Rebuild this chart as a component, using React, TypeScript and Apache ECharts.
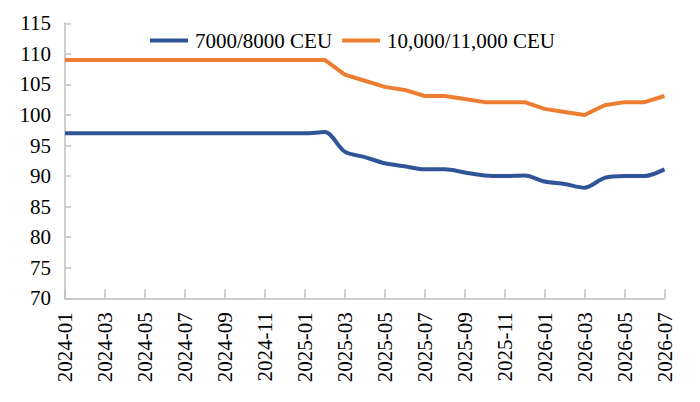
import React, { useEffect, useRef } from "react";
import * as echarts from "echarts";

const months: string[] = [
  "2024-01", "2024-02", "2024-03", "2024-04", "2024-05", "2024-06", "2024-07", "2024-08",
  "2024-09", "2024-10", "2024-11", "2024-12", "2025-01", "2025-02", "2025-03", "2025-04",
  "2025-05", "2025-06", "2025-07", "2025-08", "2025-09", "2025-10", "2025-11", "2025-12",
  "2026-01", "2026-02", "2026-03", "2026-04", "2026-05", "2026-06", "2026-07",
];

const seriesNames: string[] = ["7000/8000 CEU", "10,000/11,000 CEU"];

const ceu7000: number[] = [
  97, 97, 97, 97, 97, 97, 97, 97, 97, 97, 97, 97, 97, 97.2,
  94.0, 93.1, 92.1, 91.6, 91.1, 91.1, 90.6, 90.1, 90.0, 90.1,
  89.1, 88.7, 88.1, 89.7, 90.0, 90.0, 91.1,
];

const ceu10000: number[] = [
  109, 109, 109, 109, 109, 109, 109, 109, 109, 109, 109, 109, 109, 109,
  106.6, 105.6, 104.6, 104.1, 103.1, 103.1, 102.6, 102.1, 102.1, 102.1,
  101.0, 100.5, 100.0, 101.6, 102.1, 102.1, 103.1,
];

const yMin = 70;
const yMax = 115;
const yStep = 5;

const FONT = "Liberation Serif";
const AXIS_COLOR = "#bfbfbf";

export default function App() {
  const ref = useRef<HTMLDivElement>(null);

  useEffect(() => {
    document.body.style.margin = "0";
    if (!ref.current) return;
    const chart = echarts.init(ref.current, null, { renderer: "svg" });
    chart.setOption({
      animation: false,
      backgroundColor: "#ffffff",
      textStyle: { fontFamily: FONT, color: "#000000" },
      legend: {
        left: 145,
        top: 25,
        itemWidth: 38,
        itemHeight: 4,
        itemGap: 10,
        icon: "rect",
        textStyle: {
          fontFamily: FONT,
          fontSize: 21,
          color: "#000000",
          padding: [0, 0, 0, 2],
        },
        data: seriesNames,
      },
      grid: {
        left: 65,
        right: 35.5,
        top: 23.3,
        bottom: 103.7,
        outerBoundsMode: "none",
        containLabel: false,
      },
      xAxis: {
        type: "category",
        data: months,
        boundaryGap: false,
        axisLine: { show: true, lineStyle: { color: AXIS_COLOR, width: 1.5 } },
        axisTick: {
          show: true,
          inside: true,
          length: 9,
          interval: 1,
          lineStyle: { color: AXIS_COLOR, width: 1.5 },
        },
        axisLabel: {
          interval: 1,
          rotate: 90,
          margin: 14,
          fontFamily: FONT,
          fontSize: 21,
          color: "#000000",
        },
        splitLine: { show: false },
      },
      yAxis: {
        type: "value",
        min: yMin,
        max: yMax,
        interval: yStep,
        axisLine: { show: true, lineStyle: { color: AXIS_COLOR, width: 1.5 } },
        axisTick: {
          show: true,
          inside: true,
          length: 6,
          lineStyle: { color: AXIS_COLOR, width: 1.5 },
        },
        axisLabel: {
          margin: 14,
          fontFamily: FONT,
          fontSize: 21,
          color: "#000000",
        },
        splitLine: { show: false },
      },
      series: [
        {
          name: seriesNames[0],
          type: "line",
          data: ceu7000,
          smooth: 0.3,
          showSymbol: false,
          symbol: "none",
          color: "#2F5597",
          lineStyle: { color: "#2F5597", width: 4 },
        },
        {
          name: seriesNames[1],
          type: "line",
          data: ceu10000,
          smooth: false,
          showSymbol: false,
          symbol: "none",
          color: "#ED7D31",
          lineStyle: { color: "#ED7D31", width: 4 },
        },
      ],
    });
    return () => chart.dispose();
  }, []);

  return <div ref={ref} style={{ width: 700, height: 402 }} />;
}
